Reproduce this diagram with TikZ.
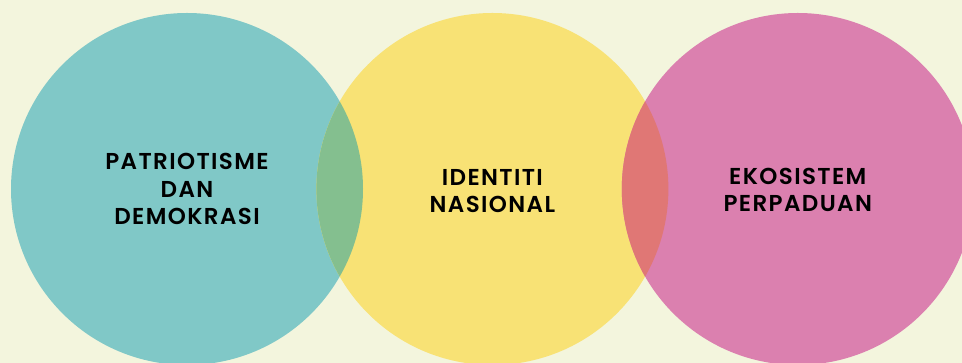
\documentclass[tikz,border=0pt]{standalone}
\usepackage{fontspec}
\newfontfamily\lblfont[LetterSpace=6]{Poppins SemiBold}
\usetikzlibrary{positioning}
\definecolor{bgcream}{HTML}{F3F5DD}
\definecolor{tealc}{HTML}{80C8C7}
\definecolor{yellowc}{HTML}{F8E275}
\definecolor{pinkc}{HTML}{DB80AF}
\definecolor{greenlens}{HTML}{84BF8F}
\definecolor{redlens}{HTML}{E07775}

\begin{document}
\begin{tikzpicture}[x=1pt,y=1pt,
  ring/.style={circle,minimum size=352pt,inner sep=0pt,align=center,font=\lblfont\fontsize{23}{27.4}\selectfont,text=black}]
\useasboundingbox (0,0) rectangle (962,363);
\clip (0,0) rectangle (962,363);
\fill[bgcream] (0,0) rectangle (962,363);
\node[ring,fill=tealc] (patri) at (187,174) {};
\node[ring,fill=yellowc,right=-47pt of patri] (ident) {};
\node[ring,fill=pinkc,right=-47pt of ident] (ekos) {};
% overlaps
\begin{scope}
\clip (ident.center) circle (176);
\fill[greenlens] (patri.center) circle (176);
\fill[redlens] (ekos.center) circle (176);
\end{scope}
% labels
\node[ring] (patrilbl) at (patri.center) {PATRIOTISME\\DAN\\DEMOKRASI};
\node[ring] (identlbl) at ([yshift=-2pt]ident.center) {IDENTITI\\NASIONAL};
\node[ring] (ekoslbl) at ([yshift=-1pt]ekos.center) {EKOSISTEM\\PERPADUAN};
\end{tikzpicture}
\end{document}
